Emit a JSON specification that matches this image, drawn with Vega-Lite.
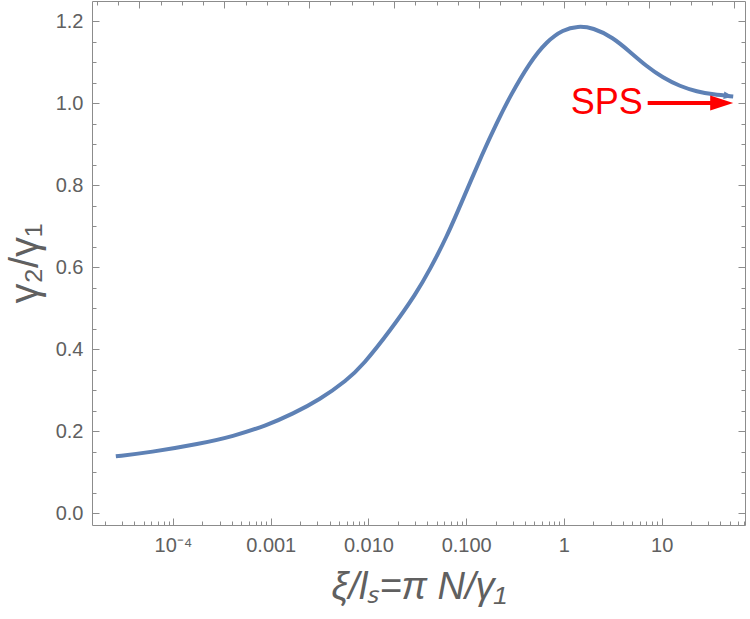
{
  "$schema": "https://vega.github.io/schema/vega-lite/v6.json",
  "width": 653,
  "height": 524,
  "autosize": {"type": "none"},
  "padding": {"left": 92, "top": 1, "right": 5, "bottom": 94},
  "background": "white",
  "config": {
    "view": {"stroke": "#8c8c8c", "strokeWidth": 1},
    "axis": {
      "domain": false,
      "grid": false,
      "tickColor": "#8c8c8c",
      "tickWidth": 1,
      "labelFont": "Liberation Sans",
      "labelFontSize": 20,
      "labelColor": "#606060",
      "titleFont": "Liberation Sans",
      "titleColor": "#606060",
      "titleFontWeight": "normal"
    }
  },
  "datasets": {
    "curve": [
      {"xi": 0.000026, "ratio": 0.1385},
      {"xi": 0.0000579, "ratio": 0.148},
      {"xi": 0.000188, "ratio": 0.169},
      {"xi": 0.000409, "ratio": 0.187},
      {"xi": 0.000912, "ratio": 0.214},
      {"xi": 0.00168, "ratio": 0.242},
      {"xi": 0.00318, "ratio": 0.277},
      {"xi": 0.00601, "ratio": 0.324},
      {"xi": 0.00877, "ratio": 0.361},
      {"xi": 0.0166, "ratio": 0.444},
      {"xi": 0.0313, "ratio": 0.538},
      {"xi": 0.0425, "ratio": 0.594},
      {"xi": 0.0634, "ratio": 0.674},
      {"xi": 0.0925, "ratio": 0.765},
      {"xi": 0.148, "ratio": 0.879},
      {"xi": 0.206, "ratio": 0.952},
      {"xi": 0.28, "ratio": 1.016},
      {"xi": 0.449, "ratio": 1.1},
      {"xi": 0.67, "ratio": 1.151},
      {"xi": 0.977, "ratio": 1.179},
      {"xi": 1.39, "ratio": 1.188},
      {"xi": 1.98, "ratio": 1.184},
      {"xi": 3.18, "ratio": 1.16},
      {"xi": 4.74, "ratio": 1.125},
      {"xi": 7.07, "ratio": 1.089},
      {"xi": 10.3, "ratio": 1.062},
      {"xi": 15.4, "ratio": 1.041},
      {"xi": 23.0, "ratio": 1.028},
      {"xi": 33.5, "ratio": 1.021},
      {"xi": 54.0, "ratio": 1.016}
    ],
    "sps": [
      {"label": "SPS", "from": 7.2, "to": 46, "tip": 54, "level": 1.0}
    ]
  },
  "layer": [
    {
      "data": {"name": "curve"},
      "mark": {"type": "line", "color": "#5E81B5", "strokeWidth": 4, "interpolate": "basis", "strokeCap": "butt"},
      "encoding": {
        "x": {
          "field": "xi",
          "type": "quantitative",
          "scale": {"type": "log", "domain": [0.00001483, 71.3], "nice": false},
          "axis": {
            "orient": "bottom",
            "values": [0.00002, 0.00003, 0.00004, 0.00005, 0.00006, 0.00007, 0.00008, 0.00009,
                       0.0001, 0.0002, 0.0003, 0.0004, 0.0005, 0.0006, 0.0007, 0.0008, 0.0009,
                       0.001, 0.002, 0.003, 0.004, 0.005, 0.006, 0.007, 0.008, 0.009,
                       0.01, 0.02, 0.03, 0.04, 0.05, 0.06, 0.07, 0.08, 0.09,
                       0.1, 0.2, 0.3, 0.4, 0.5, 0.6, 0.7, 0.8, 0.9,
                       1, 2, 3, 4, 5, 6, 7, 8, 9,
                       10, 20, 30, 40, 50, 60, 70],
            "labelExpr": "datum.value === 0.0001 ? '10⁻⁴' : datum.value === 0.001 ? '0.001' : datum.value === 0.01 ? '0.010' : datum.value === 0.1 ? '0.100' : datum.value === 1 ? '1' : datum.value === 10 ? '10' : ''",
            "labelOverlap": false,
            "labelFlush": false,
            "labelPadding": 17,
            "tickSize": {
              "condition": {"test": "indexof([0.0001, 0.001, 0.01, 0.1, 1, 10], datum.value) >= 0", "value": -7},
              "value": -4
            },
            "title": "ξ/lₛ=π N/γ₁",
            "titleFontSize": 38,
            "titleFontStyle": "italic",
            "titlePadding": 10
          }
        },
        "y": {
          "field": "ratio",
          "type": "quantitative",
          "scale": {"domain": [-0.029, 1.249], "nice": false, "zero": false},
          "axis": {
            "orient": "left",
            "values": [0, 0.05, 0.1, 0.15, 0.2, 0.25, 0.3, 0.35, 0.4, 0.45, 0.5, 0.55, 0.6, 0.65, 0.7, 0.75, 0.8, 0.85, 0.9, 0.95, 1, 1.05, 1.1, 1.15, 1.2],
            "labelExpr": "abs(datum.value * 5 - round(datum.value * 5)) < 0.001 ? format(datum.value, '.1f') : ''",
            "labelOverlap": false,
            "labelFlush": false,
            "labelPadding": 16,
            "tickSize": {
              "condition": {"test": "abs(datum.value * 5 - round(datum.value * 5)) < 0.001", "value": -7},
              "value": -4
            },
            "title": "γ₂/γ₁",
            "titleFontSize": 40,
            "titlePadding": 10
          }
        }
      }
    },
    {
      "data": {"name": "sps"},
      "mark": {"type": "rule", "color": "#FF0000", "strokeWidth": 4},
      "encoding": {
        "x": {
          "field": "from",
          "type": "quantitative",
          "axis": {
            "orient": "top",
            "labels": false,
            "title": null,
            "values": [0.000016702, 0.000027536, 0.0000454, 0.000074852, 0.00012341, 0.00020347, 0.00033546, 0.00055308,
                       0.00091188, 0.0015034, 0.0024788, 0.0040868, 0.0067379, 0.011109, 0.018316, 0.030197,
                       0.049787, 0.082085, 0.13534, 0.22313, 0.36788, 0.60653, 1, 1.6487,
                       2.7183, 4.4817, 7.3891, 12.182, 20.086, 33.115, 54.598],
            "tickSize": {
              "condition": {"test": "abs(log(datum.value) / 2 - round(log(datum.value) / 2)) < 0.01", "value": -7},
              "value": -4
            }
          }
        },
        "x2": {"field": "to"},
        "y": {
          "field": "level",
          "type": "quantitative",
          "axis": {
            "orient": "right",
            "labels": false,
            "title": null,
            "values": [0, 0.05, 0.1, 0.15, 0.2, 0.25, 0.3, 0.35, 0.4, 0.45, 0.5, 0.55, 0.6, 0.65, 0.7, 0.75, 0.8, 0.85, 0.9, 0.95, 1, 1.05, 1.1, 1.15, 1.2],
            "tickSize": {
              "condition": {"test": "abs(datum.value * 5 - round(datum.value * 5)) < 0.001", "value": -7},
              "value": -4
            }
          }
        }
      }
    },
    {
      "data": {"name": "sps"},
      "mark": {"type": "point", "shape": "M -2 -0.65 L 0 0 L -2 0.65 Z", "size": 529, "filled": true, "color": "#FF0000", "opacity": 1, "strokeWidth": 0},
      "encoding": {
        "x": {"field": "tip", "type": "quantitative", "axis": null},
        "y": {"field": "level", "type": "quantitative", "axis": null}
      }
    },
    {
      "data": {"name": "sps"},
      "mark": {"type": "text", "color": "#FF0000", "font": "Liberation Sans", "fontSize": 36, "align": "right", "baseline": "middle", "dx": -5},
      "encoding": {
        "x": {"field": "from", "type": "quantitative", "axis": null},
        "y": {"field": "level", "type": "quantitative", "axis": null},
        "text": {"field": "label"}
      }
    },
    {
      "data": {"name": "curve"},
      "transform": [{"filter": "datum.xi > 50"}],
      "mark": {"type": "point", "shape": "M -2 -0.8 L 0 0 L -2 0.8 Z", "size": 90, "filled": true, "color": "#5E81B5", "opacity": 1, "strokeWidth": 0, "angle": 8},
      "encoding": {
        "x": {"field": "xi", "type": "quantitative", "axis": null},
        "y": {"field": "ratio", "type": "quantitative", "axis": null}
      }
    }
  ],
  "resolve": {"axis": {"x": "independent", "y": "independent"}}
}
